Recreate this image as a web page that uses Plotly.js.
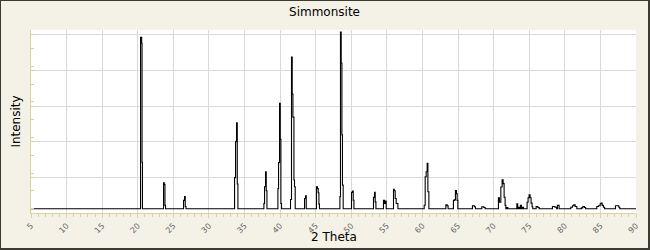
<!DOCTYPE html>
<html>
<head>
<meta charset="utf-8">
<script src="https://cdn.plot.ly/plotly-3.0.1.min.js"></script>
<style>
  html, body { margin: 0; padding: 0; background: #f4f2e6; }
  #frame { width: 650px; height: 250px; box-sizing: border-box;
           border-top: 1px solid #3b3a33; border-left: 1px solid #3b3a33;
           border-right: 2px solid #3b3a33; border-bottom: 2px solid #3b3a33;
           background: #f4f2e6; }
  #chart { width: 647px; height: 247px; }
</style>
</head>
<body>
<div id="frame"><div id="chart"></div></div>
<script>
// Diffraction pattern: 2-theta (degrees) and intensity above baseline.
const twoTheta = [
  5.00,
  20.39, 20.55, 20.60, 20.66,
  23.62, 23.72, 23.82, 23.90,
  26.43, 26.57, 26.67, 26.77,
  33.60, 33.74, 33.88, 33.98, 34.07,
  37.72, 37.81, 37.95, 38.05, 38.15,
  39.69, 39.78, 39.92, 40.02, 40.11, 40.20,
  41.46, 41.60, 41.70, 41.80, 41.94, 42.02, 42.12,
  43.43, 43.57, 43.67,
  45.11, 45.25, 45.35, 45.45, 45.53,
  48.40, 48.48, 48.58, 48.68, 48.76, 48.86,
  50.03, 50.17, 50.27, 50.37,
  53.12, 53.26, 53.36, 53.46,
  54.52, 54.66, 54.76, 54.90,
  55.93, 56.03, 56.17, 56.31, 56.55,
  60.24, 60.38, 60.52, 60.66, 60.76, 60.90,
  63.29, 63.47, 63.60,
  64.35, 64.49, 64.63, 64.77, 64.87, 64.97,
  67.02, 67.30, 67.44,
  68.34, 68.62, 68.81,
  70.67, 70.81, 71.01, 71.19, 71.33, 71.47, 71.61, 71.71, 71.85, 71.99,
  73.26, 73.38, 73.45, 73.60, 73.76, 73.90, 74.04, 74.20,
  74.70, 74.84, 74.98, 75.12, 75.26, 75.40, 75.50,
  75.97, 76.21, 76.40,
  78.26, 78.60, 78.85, 78.96, 79.20,
  80.84, 81.07, 81.26, 81.45, 81.69,
  82.33, 82.53, 82.75, 82.92,
  84.49, 84.72, 84.96, 85.10, 85.24, 85.42, 85.59,
  87.11, 87.39, 87.58, 87.72,
  90.00
];
const intensity = [
  0,
  96.3, 93.0, 26.0, 0,
  14.6, 13.7, 1.9, 0,
  4.7, 6.9, 1.3, 0,
  17.5, 37.7, 48.3, 13.9, 0,
  3.0, 12.4, 20.8, 10.1, 0,
  11.4, 25.9, 59.3, 39.0, 3.0, 0,
  5.2, 85.2, 64.4, 51.5, 16.2, 12.4, 0,
  5.8, 7.3, 0,
  12.4, 11.3, 9.0, 2.6, 0,
  6.8, 99.2, 81.9, 41.5, 13.3, 0,
  9.2, 9.9, 4.8, 0,
  6.4, 9.2, 3.9, 0,
  4.7, 3.0, 4.3, 0,
  10.9, 10.1, 5.8, 3.0, 0,
  2.0, 18.0, 20.8, 25.5, 9.6, 0,
  2.2, 1.7, 0,
  4.7, 5.0, 10.3, 8.5, 4.7, 0,
  1.7, 1.1, 0,
  1.1, 0.7, 0,
  6.2, 3.7, 12.2, 16.3, 14.1, 6.5, 1.9, 0, 0.7, 0,
  2.8, 0, 0.9, 0, 1.9, 0, 0.9, 0,
  3.7, 6.2, 7.9, 6.2, 3.2, 1.1, 0,
  1.3, 0.7, 0,
  1.3, 0.9, 0, 1.9, 0,
  0.9, 1.7, 2.2, 1.3, 0,
  0.5, 1.3, 0.7, 0,
  1.3, 1.7, 2.8, 3.2, 1.9, 0.9, 0,
  1.7, 1.7, 0.9, 0,
  0
];
const xTicks = [5, 10, 15, 20, 25, 30, 35, 40, 45, 50, 55, 60, 65, 70, 75, 80, 85, 90];
const xTickLabels = xTicks.map(String);
const chartTitle = 'Simmonsite';
const xTitle = '2 Theta';
const yTitle = 'Intensity';

const axisYellow = '#d9d39c';
const gridGrey = '#d9d9d9';

const trace = {
  x: twoTheta, y: intensity, type: 'scatter', mode: 'lines',
  line: { color: '#000000', width: 1.1, shape: 'hv' },
  hoverinfo: 'x+y'
};

const layout = {
  width: 647, height: 247,
  paper_bgcolor: '#f4f2e6', plot_bgcolor: '#ffffff',
  margin: { l: 30, r: 12, t: 29, b: 35 },
  showlegend: false,
  font: { family: 'DejaVu Sans, Verdana, sans-serif', color: '#000' },
  title: { text: chartTitle, font: { size: 12, color: '#000' },
           x: 0.5, xanchor: 'center', y: 0.955, yanchor: 'middle' },
  xaxis: {
    range: [5, 90], tickmode: 'array', tickvals: xTicks, ticktext: xTickLabels,
    tickangle: -45, tickfont: { size: 8, color: '#666666' },
    ticks: 'outside', ticklen: 4, tickcolor: axisYellow, tickwidth: 1,
    showline: true, linecolor: axisYellow, linewidth: 1,
    showgrid: true, gridcolor: gridGrey, gridwidth: 1, zeroline: false,
    minor: { dtick: 1, ticks: 'outside', ticklen: 3, tickcolor: axisYellow, showgrid: false },
    fixedrange: true
  },
  yaxis: {
    range: [-2.37, 100.4], tick0: -2.37, dtick: 20,
    showticklabels: false,
    ticks: 'inside', ticklen: 4, tickcolor: axisYellow, tickwidth: 1,
    showline: true, linecolor: axisYellow, linewidth: 1,
    showgrid: true, gridcolor: gridGrey, gridwidth: 1, zeroline: false,
    minor: { dtick: 10, ticks: 'inside', ticklen: 3, tickcolor: axisYellow, showgrid: false },
    title: { text: yTitle, font: { size: 12, color: '#000' }, standoff: 6 },
    fixedrange: true
  },
  annotations: [{
    text: xTitle, xref: 'paper', yref: 'paper', x: 0.5, y: -0.13,
    xanchor: 'center', yanchor: 'middle', showarrow: false,
    font: { size: 12, color: '#000' }
  }]
};

Plotly.newPlot('chart', [trace], layout, { displayModeBar: false, staticPlot: true });
</script>
</body>
</html>
